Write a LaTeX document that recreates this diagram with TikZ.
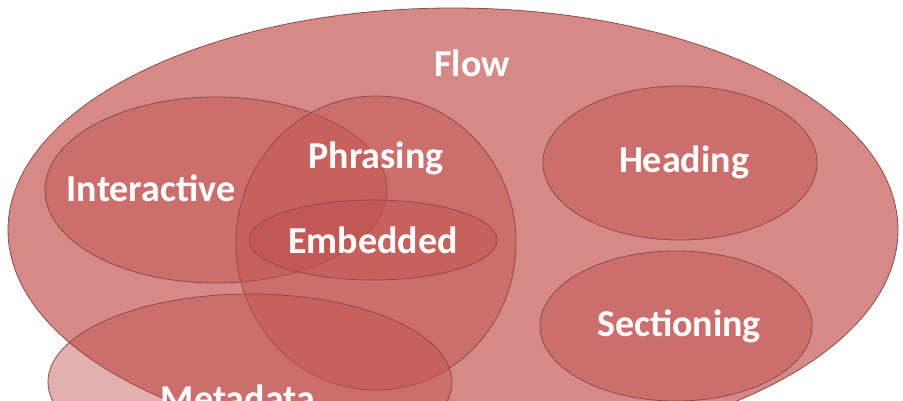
\documentclass[tikz,border=0pt]{standalone}
\usepackage{fontspec}
\setmainfont{Carlito}
\definecolor{outerfill}{HTML}{D68A87}
\definecolor{innerfill}{HTML}{C0504D}
\definecolor{edge}{HTML}{8C4A48}
\tikzset{
  set/.style={draw=edge, line width=0.8pt, fill=innerfill, fill opacity=0.45},
  lbl/.style={text=white, font=\bfseries\fontsize{38}{40}\selectfont, inner sep=0pt}
}
\begin{document}
\begin{tikzpicture}[x=1pt,y=-1pt]
\useasboundingbox (0,0) rectangle (903,400);
\clip (0,0) rectangle (903,400);
\fill[white] (0,0) rectangle (903,400);
\draw[draw=edge, line width=0.8pt, fill=outerfill] (453,230) ellipse [x radius=445, y radius=222];
\draw[set] (216,190) ellipse [x radius=171, y radius=93];
\draw[set] (376,243) ellipse [x radius=140, y radius=147];
\draw[set] (373,240) ellipse [x radius=124, y radius=40];
\draw[set] (680,163) ellipse [x radius=137, y radius=77];
\draw[set] (676,326) ellipse [x radius=136, y radius=75];
\draw[set] (250,382) ellipse [x radius=202, y radius=88];
\node[lbl] (flow) at (472,63) {Flow};
\node[lbl] (inter) at (151,188) {Interactive};
\node[lbl] (phr) at (376,158) {Phrasing};
\node[lbl] (emb) at (373,240) {Embedded};
\node[lbl] (head) at (684,162) {Heading};
\node[lbl] (sect) at (679,326) {Sectioning};
\node[lbl] (meta) at (238,398) {Metadata};
\end{tikzpicture}
\end{document}
